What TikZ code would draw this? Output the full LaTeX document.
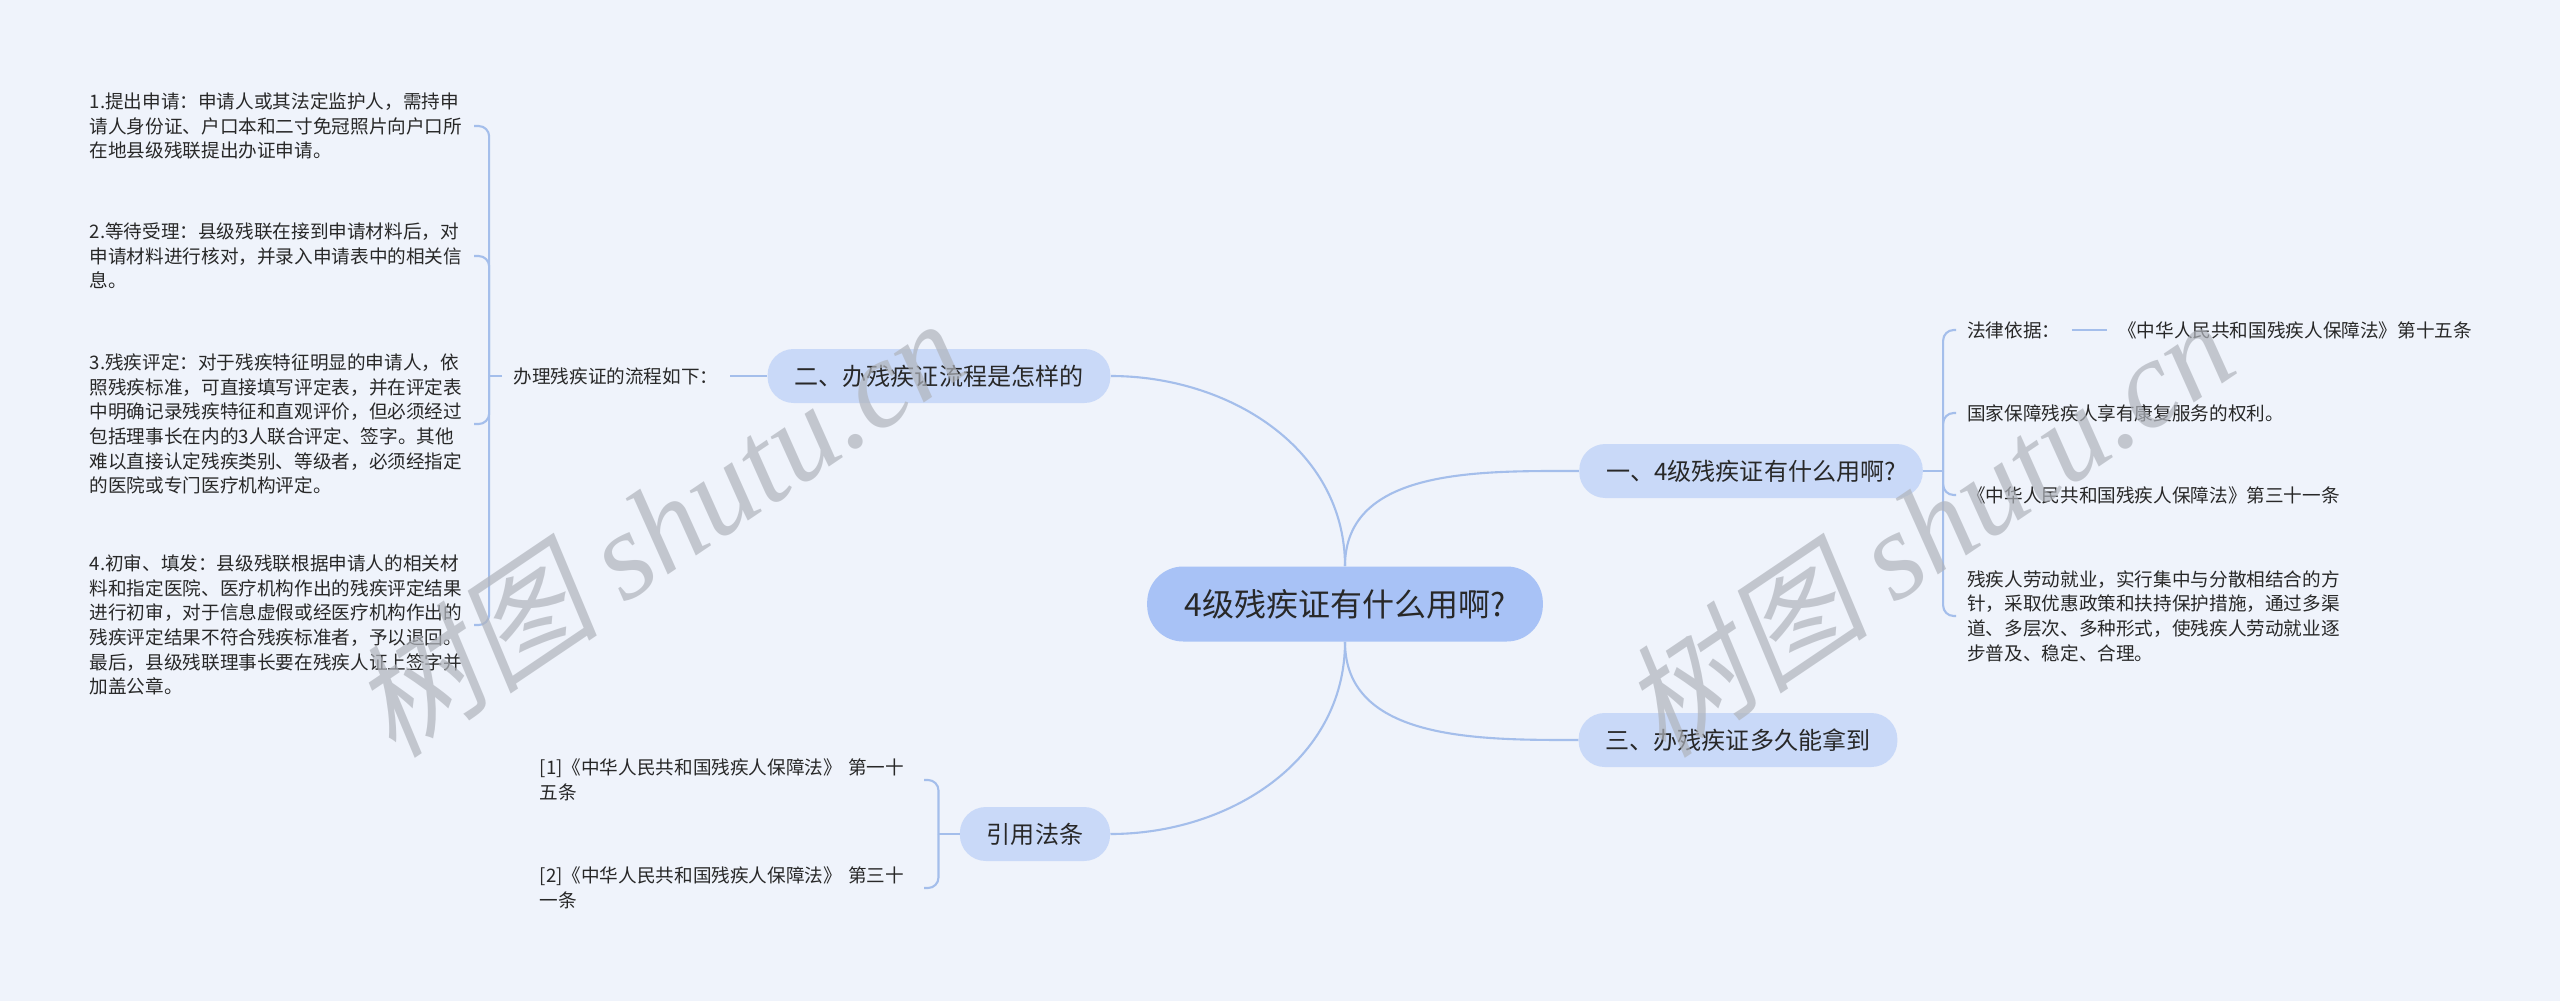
\documentclass[tikz,border=0pt]{standalone}
\usepackage{fontspec}
\setmainfont{Noto Sans CJK SC}
\newfontfamily\wmcjk{Noto Sans CJK SC}[FakeSlant=0.2]
\newfontfamily\wmlatin{Liberation Serif}
\usepackage{xcolor}
\usetikzlibrary{positioning}

\definecolor{bgblue}{RGB}{239,243,251}
\definecolor{rootblue}{RGB}{168,194,246}
\definecolor{topicblue}{RGB}{201,217,248}
\definecolor{linkblue}{RGB}{164,190,235}
\definecolor{txt}{RGB}{40,40,40}
\definecolor{wmgray}{RGB}{176,180,188}

\begin{document}
\begin{tikzpicture}[
  x=0.02cm, y=-0.02cm,
  root/.style={fill=rootblue, rounded corners=0.72cm, minimum height=1.5cm, inner xsep=0.75cm, text=txt, font=\fontsize{18.2}{20}\selectfont},
  topic/.style={fill=topicblue, rounded corners=0.52cm, minimum height=1.08cm, inner xsep=0.54cm, text=txt, font=\fontsize{13.7}{16}\selectfont},
  leaf/.style={inner xsep=0.22cm, inner ysep=0pt, align=left, text=txt, font=\fontsize{10.6}{14}\selectfont},
  para/.style={leaf, text width=7.46cm},
  link/.style={draw=linkblue, line width=1.2pt},
  brace/.style={link, rounded corners=6pt},
  wm/.style={text=wmgray, opacity=0.7, rotate=34, font=\fontsize{71}{71}\selectfont}
]
\fill[bgblue] (0,0) rectangle (2560,1001);
\useasboundingbox (0,0) rectangle (2560,1001);

% centre and main topics
\node[root] (root) at (1345,604) {4级残疾证有什么用啊?};
\node[topic] (n1) at (1751,471) {一、4级残疾证有什么用啊?};
\node[topic] (n2) at (939,376) {二、办残疾证流程是怎样的};
\node[topic] (n3) at (1738,740) {三、办残疾证多久能拿到};
\node[topic] (n4) at (1035,834) {引用法条};

\draw[link] (root) to[out=90, in=180] (n1);
\draw[link] (root) to[out=90, in=0] (n2);
\draw[link] (root) to[out=270, in=180] (n3);
\draw[link] (root) to[out=270, in=0] (n4);

% topic 1
\coordinate[right=0.4cm of n1] (j1);
\node[leaf, anchor=west] (law) at (1956,330) {法律依据：};
\node[leaf, right=0.7cm of law] (law15) {《中华人民共和国残疾人保障法》第十五条};
\node[leaf, anchor=west] (rehab) at (1956,413) {国家保障残疾人享有康复服务的权利。};
\node[leaf, anchor=west] (law31) at (1956,495) {《中华人民共和国残疾人保障法》第三十一条};
\node[para, anchor=west] (work) at (1956,616) {残疾人劳动就业，实行集中与分散相结合的方\\针，采取优惠政策和扶持保护措施，通过多渠\\道、多层次、多种形式，使残疾人劳动就业逐\\步普及、稳定、合理。};
\draw[link] (n1) -- (j1);
\draw[link] (law) -- (law15);
\draw[brace] (j1) |- (law.west);
\draw[brace] (j1) |- (rehab.west);
\draw[brace] (j1) |- (law31.west);
\draw[brace] (j1) |- (work.west);

% topic 2
\node[leaf, left=0.75cm of n2] (flow) {办理残疾证的流程如下：};
\coordinate[left=0.26cm of flow] (j2);
\node[para, anchor=east] (s1) at (474,126) {1.提出申请：申请人或其法定监护人，需持申\\请人身份证、户口本和二寸免冠照片向户口所\\在地县级残联提出办证申请。};
\node[para, anchor=east] (s2) at (474,256) {2.等待受理：县级残联在接到申请材料后，对\\申请材料进行核对，并录入申请表中的相关信\\息。};
\node[para, anchor=east] (s3) at (474,424) {3.残疾评定：对于残疾特征明显的申请人，依\\照残疾标准，可直接填写评定表，并在评定表\\中明确记录残疾特征和直观评价，但必须经过\\包括理事长在内的3人联合评定、签字。其他\\难以直接认定残疾类别、等级者，必须经指定\\的医院或专门医疗机构评定。};
\node[para, anchor=east] (s4) at (474,625) {4.初审、填发：县级残联根据申请人的相关材\\料和指定医院、医疗机构作出的残疾评定结果\\进行初审，对于信息虚假或经医疗机构作出的\\残疾评定结果不符合残疾标准者，予以退回。\\最后，县级残联理事长要在残疾人证上签字并\\加盖公章。};
\draw[link] (n2) -- (flow);
\draw[link] (flow) -- (j2);
\foreach \s in {s1,s2,s3,s4}
  \draw[brace] (j2) |- (\s.east);

% topic 4
\coordinate[left=0.42cm of n4] (j4);
\node[para, anchor=east] (ref1) at (924,780) {[1]《中华人民共和国残疾人保障法》 第一十\\五条};
\node[para, anchor=east] (ref2) at (924,888) {[2]《中华人民共和国残疾人保障法》 第三十\\一条};
\draw[link] (n4) -- (j4);
\draw[brace] (j4) |- (ref1.east);
\draw[brace] (j4) |- (ref2.east);

% watermarks
\node[wm] (wmL) at (657,526) {{\wmcjk 树图} {\wmlatin\itshape shutu.cn}};
\node[wm] (wmR) at (1927,526) {{\wmcjk 树图} {\wmlatin\itshape shutu.cn}};
\end{tikzpicture}
\end{document}
